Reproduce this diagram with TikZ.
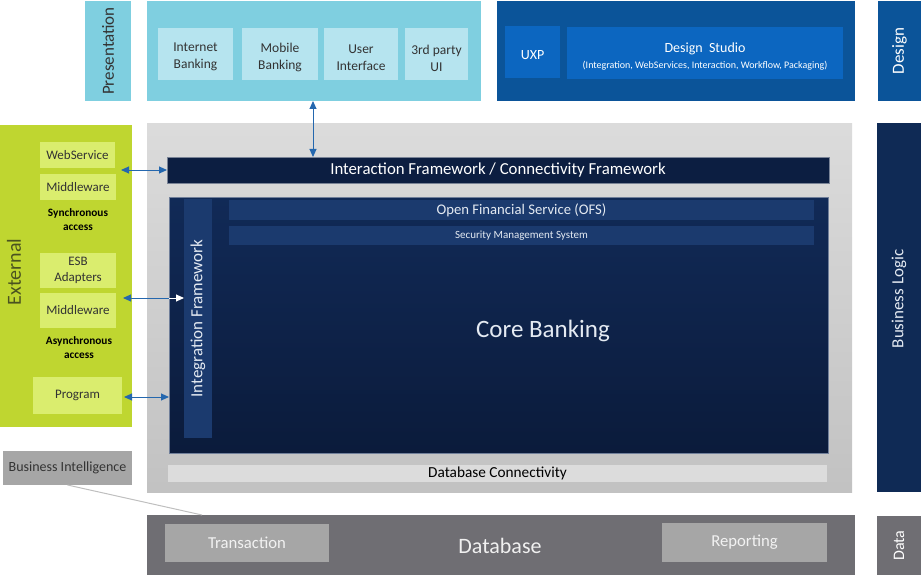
\documentclass[tikz,border=0pt]{standalone}
\usepackage{fontspec}
\setmainfont{Carlito}
\usetikzlibrary{arrows.meta}
\definecolor{presbg}{HTML}{7FCFE0}
\definecolor{presin}{HTML}{B6E4EF}
\definecolor{desbg}{HTML}{0B5499}
\definecolor{desin}{HTML}{0C66C0}
\definecolor{navy}{HTML}{0F2A55}
\definecolor{barbg}{HTML}{0C1E41}
\definecolor{coretop}{HTML}{112A57}
\definecolor{corebot}{HTML}{0B1B3B}
\definecolor{inbar}{HTML}{1B3A6E}
\definecolor{grn}{HTML}{BFD630}
\definecolor{grnin}{HTML}{DAED6E}
\definecolor{dbgray}{HTML}{6F6E73}
\definecolor{midgray}{HTML}{A6A6A6}
\definecolor{arrowblue}{HTML}{2467AE}
\definecolor{dbconn}{HTML}{DCDCDC}
\definecolor{txtdark}{HTML}{333333}
\definecolor{extlab}{HTML}{4A5220}
\definecolor{lighttxt}{HTML}{E4EAF2}
\newcommand\mkbox[7]{\node[#1, minimum width={#4-#2}, minimum height={#5-#3}] (#6) at ({(#2+#4)/2},{(#3+#5)/2}) {#7};}
\begin{document}
\begin{tikzpicture}[x=1pt,y=-1pt,
  every node/.style={inner sep=0pt, outer sep=0pt, align=center},
  presout/.style={fill=presbg},
  presinner/.style={fill=presin},
  prestext/.style={text=txtdark, font=\fontsize{13.5}{17}\selectfont},
  desout/.style={fill=desbg},
  desinner/.style={fill=desin},
  destext/.style={text=white, font=\fontsize{14}{17}\selectfont},
  sidelab/.style={rotate=90, font=\fontsize{17}{20}\selectfont},
  grnbox/.style={fill=grnin, text=txtdark, font=\fontsize{13}{15.5}\selectfont},
  grnnote/.style={text=black, font=\bfseries\fontsize{11.3}{14}\selectfont},
  navybar/.style={fill=barbg, draw=white!45!barbg, line width=0.6pt, text=white, font=\fontsize{16.8}{19}\selectfont},
  innerbar/.style={fill=inbar, text=lighttxt},
  graybox/.style={fill=midgray},
  biarrow/.style={draw=arrowblue, line width=1pt, {Triangle[length=8pt,width=7pt]}-{Triangle[length=8pt,width=7pt]}},
]
\useasboundingbox (0,0) rectangle (921,575);
% Presentation
\mkbox{presout}{85}{1}{131}{101}{plab}{}
\node[sidelab, text=txtdark] at (plab.center) {Presentation};
\mkbox{presout}{147}{1}{481}{101}{pres}{}
\mkbox{presinner}{158}{28}{233}{80}{ib}{}
\mkbox{presinner}{242}{28}{318}{80}{mb}{}
\mkbox{presinner}{324}{28}{398}{80}{ui}{}
\mkbox{presinner}{405}{28}{468}{80}{tp}{}
\node[prestext] at ([yshift=-3pt]ib.center) {Internet\\Banking};
\node[prestext] at ([yshift=-3pt]mb.center) {Mobile\\Banking};
\node[prestext] at ([yshift=-4pt]ui.center) {User\\Interface};
\node[prestext] at ([yshift=-4pt]tp.center) {3rd party\\UI};
% Design
\mkbox{desout}{497}{1}{855}{101}{des}{}
\mkbox{desinner}{505}{26}{560}{78}{uxp}{}
\node[destext] at ([yshift=-3pt]uxp.center) {UXP};
\mkbox{desinner}{567}{27}{843}{79}{ds}{}
\node[destext] at ([yshift=-4pt]ds.center) {Design\ \ Studio\\[-1pt]{\fontsize{10}{12}\selectfont (Integration, WebServices, Interaction, Workflow, Packaging)}};
\mkbox{desout}{878}{1}{921}{101}{dlab}{}
\node[sidelab, text=white] at (dlab.center) {Design};
% Business logic
\mkbox{top color=black!14, bottom color=black!24}{147}{124}{852}{492}{blogic}{}
\mkbox{fill=navy}{877}{123}{921}{492}{bllab}{}
\node[sidelab, text=lighttxt] at (899,299) {Business Logic};
\mkbox{navybar}{167}{157}{829}{183}{iframe}{Interaction Framework / Connectivity Framework}
\mkbox{top color=coretop, bottom color=corebot, draw=white!40!coretop, line width=0.6pt}{169}{197}{828}{453}{core}{}
\mkbox{innerbar}{184}{199}{212}{438}{intfw}{}
\node[sidelab, text=lighttxt] at (intfw.center) {Integration Framework};
\mkbox{innerbar, font=\fontsize{14.7}{16}\selectfont}{229}{200}{814}{220}{ofs}{Open Financial Service (OFS)}
\mkbox{innerbar, font=\fontsize{11}{12}\selectfont}{229}{226}{814}{245}{sms}{Security Management System}
\node[text=lighttxt, font=\fontsize{25}{29}\selectfont] (cbt) at (543,331) {Core Banking};
\mkbox{fill=dbconn, text=black, font=\fontsize{15.3}{17}\selectfont}{168}{465}{827}{482}{dbc}{Database Connectivity}
% External
\mkbox{fill=grn}{0}{125}{132}{427}{ext}{}
\node[rotate=90, text=extlab, font=\fontsize{20}{24}\selectfont] at (14,272) {External};
\mkbox{grnbox}{40}{142}{115}{168}{ws}{WebService}
\mkbox{grnbox}{40}{174}{116}{200}{mw1}{Middleware}
\node[grnnote] (sync) at (78,220) {Synchronous\\access};
\mkbox{grnbox}{40}{253}{116}{288}{esb}{ESB\\Adapters}
\mkbox{grnbox}{40}{293}{116}{328}{mw2}{Middleware}
\node[grnnote] (async) at (79,348) {Asynchronous\\access};
\mkbox{grnbox}{33}{377}{122}{414}{prog}{Program}
% Data
\mkbox{graybox, text=txtdark, font=\fontsize{14}{16}\selectfont}{3}{451}{132}{485}{bi}{Business Intelligence}
\mkbox{fill=dbgray}{147}{515}{855}{575}{db}{}
\node[text=black!6, font=\fontsize{22}{26}\selectfont] (dbt) at (500,546) {Database};
\mkbox{graybox, text=black!5, font=\fontsize{16.7}{19}\selectfont}{165}{524}{329}{562}{tr}{Transaction}
\mkbox{graybox, text=black!5, font=\fontsize{16.7}{19}\selectfont}{662}{523}{827}{562}{rep}{Reporting}
\mkbox{fill=dbgray}{877}{516}{921}{575}{dalab}{}
\node[rotate=90, text=white, font=\fontsize{16}{18}\selectfont] at (dalab.center) {Data};
% connectors
\coordinate (biend) at (202,515);
\draw[black!25, line width=1pt] (bi.south) -- (biend);
\coordinate (pv) at (313,101);
\draw[biarrow] (pv) -- (pv |- iframe.north);
\coordinate (a1) at (121,170);
\draw[biarrow] (a1) -- (a1 -| iframe.west);
\coordinate (a2) at (123,298);
\draw[draw=arrowblue, line width=1pt, {Triangle[length=8pt,width=7pt]}-] (a2) -- (a2 -| core.west);
\draw[draw=white, line width=1pt, -{Triangle[length=8pt,width=7pt]}] (a2 -| core.west) -- (a2 -| intfw.west);
\coordinate (a3) at (124,397);
\draw[biarrow] (a3) -- (a3 -| core.west);
\end{tikzpicture}
\end{document}
